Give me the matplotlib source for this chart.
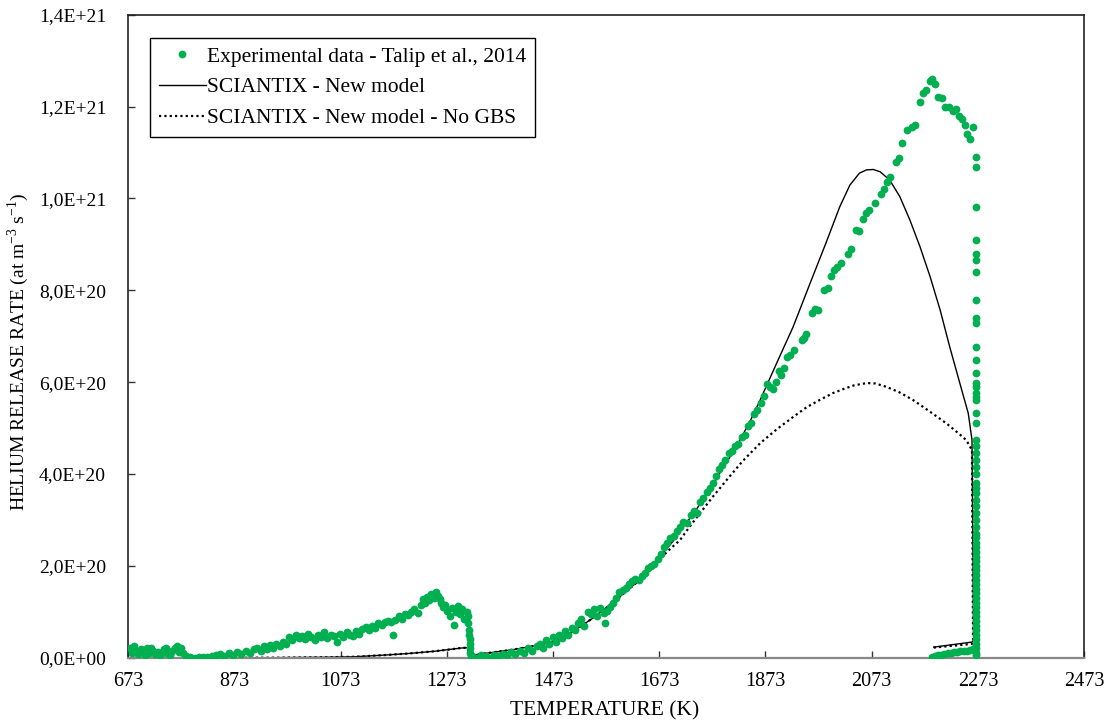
import matplotlib
matplotlib.use("Agg")
import matplotlib.pyplot as plt
from matplotlib.ticker import FixedLocator, FuncFormatter
import numpy as np

plt.rcParams['font.family'] = ['Liberation Serif', 'DejaVu Serif']
plt.rcParams['mathtext.fontset'] = 'custom'
plt.rcParams['mathtext.rm'] = 'Liberation Serif'

# ---------------- data (values in units of 1E+20 at m^-3 s^-1) ----------------
exp_T_low = [676, 680, 684, 688, 692, 696, 700, 704, 708, 712, 716, 720, 724, 728, 732, 736, 740,
             744, 748, 752, 756, 760, 764, 768, 772, 776,
             782, 790, 798, 806, 814, 822, 830,
             838, 846, 854, 862, 870, 878, 886, 894, 902, 910,
             916, 922, 928, 934, 940, 946, 952, 958, 964, 970,
             976, 982, 988, 994, 1000, 1006, 1012, 1018, 1024, 1030, 1036, 1042, 1048, 1054, 1060,
             1066, 1072, 1078, 1084, 1090, 1096,
             1102, 1108, 1114, 1120, 1126, 1132, 1138, 1144, 1150, 1156, 1171,
             1162, 1168, 1176, 1182, 1188, 1194, 1200, 1206, 1212, 1218,
             1224, 1228, 1232, 1236, 1240, 1244, 1248, 1252, 1256, 1260,
             1262, 1266, 1270, 1274, 1278, 1282, 1286, 1290, 1294, 1298, 1302, 1306, 1310,
             1312, 1313, 1314, 1315, 1316, 1316, 1317, 1317, 1318]
exp_V_low = [0.20, 0.10, 0.25, 0.15, 0.08, 0.18, 0.12, 0.05, 0.20, 0.10, 0.22, 0.15, 0.08, 0.12, 0.05, 0.10, 0.18,
             0.20, 0.08, 0.05, 0.15, 0.22, 0.25, 0.12, 0.20, 0.10,
             0.03, 0.01, 0.00, 0.02, 0.01, 0.02, 0.04,
             0.05, 0.08, 0.04, 0.10, 0.06, 0.12, 0.08, 0.15, 0.10, 0.18,
             0.20, 0.15, 0.25, 0.18, 0.28, 0.22, 0.30, 0.25, 0.35, 0.30,
             0.45, 0.38, 0.50, 0.42, 0.48, 0.40, 0.52, 0.45, 0.38, 0.50, 0.46, 0.55, 0.42, 0.50, 0.48,
             0.35, 0.52, 0.45, 0.55, 0.50, 0.48,
             0.58, 0.52, 0.62, 0.66, 0.60, 0.70, 0.65, 0.75, 0.72, 0.78, 0.50,
             0.80, 0.78, 0.82, 0.90, 0.85, 0.95, 0.92, 1.00, 1.05, 0.98,
             1.15, 1.28, 1.20, 1.32, 1.25, 1.38, 1.30, 1.44, 1.35, 1.28,
             1.20, 1.10, 1.15, 1.02, 0.90, 1.08, 0.72, 1.00, 1.12, 0.95, 1.05, 0.85, 1.00,
             0.90, 0.75, 0.60, 0.50, 0.40, 0.30, 0.20, 0.10, 0.02]

exp_T_ramp = [1322, 1330, 1338, 1346, 1354, 1362, 1370, 1378, 1386, 1394, 1402, 1410, 1418, 1426, 1434, 1442,
              1448, 1454, 1460, 1466, 1472, 1478, 1484, 1490, 1496, 1502, 1508, 1514, 1520,
              1526, 1532, 1538, 1544, 1550, 1556, 1562, 1568, 1571, 1574, 1580,
              1586, 1592, 1598, 1604, 1610, 1616, 1622, 1628, 1634, 1640, 1646, 1652, 1658, 1664,
              1670, 1676, 1682, 1688, 1694, 1700,
              1706, 1712, 1718, 1725, 1732, 1738, 1744, 1750, 1756, 1762, 1768, 1774, 1780, 1786,
              1792, 1797, 1804, 1810, 1816, 1822, 1828, 1834, 1840, 1846, 1852, 1858, 1864, 1870,
              1876, 1882, 1888, 1893, 1898, 1903, 1908, 1914, 1920, 1926,
              1941, 1945, 1950, 1960, 1966, 1972, 1983, 1990, 1996, 2002, 2008, 2015, 2028, 2035,
              2043, 2050, 2056, 2062, 2068, 2080, 2090, 2096, 2102, 2107, 2118, 2124, 2130, 2140,
              2149, 2155, 2165, 2170, 2176, 2182, 2187, 2192, 2198, 2205, 2212, 2218, 2226, 2232,
              2238, 2243, 2248, 2252, 2258, 2264]
exp_V_ramp = [0.02, 0.00, 0.05, 0.03, 0.00, 0.06, 0.04, 0.08, 0.05, 0.12, 0.08, 0.15, 0.10, 0.20, 0.15, 0.25,
              0.30, 0.22, 0.38, 0.30, 0.45, 0.35, 0.50, 0.42, 0.58, 0.50, 0.65, 0.60, 0.75,
              0.85, 0.70, 1.00, 0.95, 1.05, 0.90, 1.08, 0.98, 0.76, 1.02, 1.10,
              1.20, 1.30, 1.42, 1.48, 1.52, 1.60, 1.66, 1.72, 1.70, 1.78, 1.85, 1.95, 2.00, 2.05,
              2.15, 2.25, 2.40, 2.50, 2.60, 2.66,
              2.75, 2.85, 2.95, 2.93, 3.10, 3.20, 3.15, 3.40, 3.48, 3.60, 3.70, 3.80, 3.95, 4.10,
              4.20, 4.30, 4.45, 4.50, 4.60, 4.65, 4.80, 4.85, 5.05, 5.10, 5.30, 5.40, 5.55, 5.70,
              5.95, 5.90, 5.85, 6.00, 6.25, 6.15, 6.30, 6.55, 6.60, 6.70,
              6.92, 6.95, 7.05, 7.50, 7.60, 7.58, 8.00, 8.05, 8.30, 8.44, 8.50, 8.60, 8.79, 8.90,
              9.31, 9.30, 9.55, 9.68, 9.75, 9.90, 10.10, 10.20, 10.35, 10.46, 10.80, 10.88, 11.20, 11.50,
              11.55, 11.60, 12.10, 12.30, 12.35, 12.55, 12.60, 12.50, 12.20, 12.19, 12.00, 12.00, 11.90, 11.95,
              11.80, 11.73, 11.60, 11.40, 11.30, 11.55]

exp_T_hold = [2269] * 62
exp_V_hold = [10.90, 10.68, 9.81, 9.10, 8.80, 8.66, 8.40, 7.78, 7.39, 7.28, 6.76, 6.48, 6.20, 5.98,
              5.76, 5.90, 5.68, 5.60, 5.32, 5.10, 4.74, 4.60, 4.45, 4.30, 4.15, 4.00, 3.80, 3.70,
              3.58, 3.43, 3.30, 3.15, 3.00, 2.85, 2.70, 2.62, 2.50, 2.40, 2.30, 2.20, 2.10, 2.00,
              1.90, 1.80, 1.70, 1.60, 1.50, 1.40, 1.30, 1.20, 1.10, 1.00, 0.90, 0.80, 0.70, 0.60,
              0.50, 0.40, 0.30, 0.20, 0.10, 0.05]

exp_T_cool = [2186, 2192, 2198, 2204, 2210, 2216, 2222, 2228, 2234, 2240, 2246, 2252, 2258, 2264, 2268]
exp_V_cool = [0.02, 0.04, 0.05, 0.06, 0.08, 0.10, 0.10, 0.12, 0.12, 0.14, 0.15, 0.15, 0.17, 0.18, 0.20]

new_T = [873, 950, 1000, 1050, 1100, 1160, 1200, 1250, 1300, 1312, 1315, 1350, 1400, 1450, 1473,
         1500, 1525, 1550, 1575, 1600, 1636, 1680, 1700, 1718, 1735, 1750, 1770, 1787, 1805, 1825,
         1845, 1863, 1894, 1925, 1957, 1988, 2013, 2032, 2050, 2063, 2076, 2089, 2107, 2126, 2145,
         2164, 2183, 2202, 2220, 2239, 2255, 2262, 2265, 2262, 2190]
new_V = [0.0, 0.0, 0.005, 0.01, 0.02, 0.06, 0.09, 0.14, 0.21, 0.22, 0.05, 0.10, 0.18, 0.28, 0.35,
         0.50, 0.68, 0.88, 1.10, 1.34, 1.69, 2.28, 2.55, 2.85, 3.10, 3.35, 3.68, 4.02, 4.35, 4.74,
         5.17, 5.61, 6.41, 7.20, 8.15, 9.06, 9.82, 10.29, 10.55, 10.62, 10.63, 10.58, 10.40, 10.04, 9.53,
         8.95, 8.30, 7.57, 6.77, 5.98, 5.32, 4.74, 0.38, 0.34, 0.23]

nogbs_T = [873, 950, 1000, 1050, 1100, 1160, 1200, 1250, 1300, 1312, 1315, 1350, 1400, 1450, 1473,
           1500, 1525, 1550, 1575, 1600, 1636, 1674, 1690, 1712, 1730, 1750, 1775, 1800, 1830, 1863,
           1895, 1925, 1950, 1975, 2000, 2020, 2040, 2064, 2080, 2100, 2125, 2151, 2180, 2214, 2235,
           2251, 2262, 2264, 2262, 2190]
nogbs_V = [0.0, 0.0, 0.005, 0.01, 0.02, 0.06, 0.09, 0.14, 0.21, 0.22, 0.05, 0.10, 0.18, 0.28, 0.35,
           0.50, 0.68, 0.88, 1.10, 1.34, 1.69, 2.15, 2.33, 2.56, 2.85, 3.15, 3.52, 3.87, 4.28, 4.67,
           4.98, 5.24, 5.45, 5.61, 5.76, 5.85, 5.93, 5.98, 5.97, 5.90, 5.78, 5.61, 5.38, 5.10, 4.90,
           4.74, 4.52, 0.32, 0.30, 0.22]

x_ticks = [673, 873, 1073, 1273, 1473, 1673, 1873, 2073, 2273, 2473]
y_ticks = [0.0, 2.0e20, 4.0e20, 6.0e20, 8.0e20, 1.0e21, 1.2e21, 1.4e21]
SCALE = 1e20

# ---------------- figure ----------------
fig = plt.figure(figsize=(11.10, 7.24), dpi=100)
ax = fig.add_axes([0.1156, 0.0916, 0.8610, 0.8881])

green = '#00B050'
exp_T = exp_T_low + exp_T_ramp + exp_T_hold + exp_T_cool
exp_V = exp_V_low + exp_V_ramp + exp_V_hold + exp_V_cool
ax.plot(exp_T, np.array(exp_V) * SCALE, linestyle='none', marker='o', markersize=5.6,
        color=green, markeredgewidth=0, label='Experimental data - Talip et al., 2014', zorder=3)
ax.plot(new_T, np.array(new_V) * SCALE, color='black', linewidth=1.0,
        label='SCIANTIX - New model', zorder=2)
ax.plot(nogbs_T, np.array(nogbs_V) * SCALE, color='black', linewidth=1.6,
        linestyle=(0, (1, 1.4)), label='SCIANTIX - New model - No GBS', zorder=2)

ax.set_xlim(673, 2473)
ax.set_ylim(0, 1.4e21)
ax.xaxis.set_major_locator(FixedLocator(x_ticks))
ax.yaxis.set_major_locator(FixedLocator(y_ticks))
ax.xaxis.set_major_formatter(FuncFormatter(lambda v, p: f"{int(round(v))}"))
ax.yaxis.set_major_formatter(FuncFormatter(lambda v, p: f"{v:.1E}".replace('.', ',')))
ax.tick_params(axis='x', direction='in', length=5, width=1, pad=10, labelsize=14.5, color='#333333')
ax.tick_params(axis='y', direction='in', length=5, width=1, pad=16, labelsize=14, color='#333333')

for side in ['left', 'top', 'right']:
    ax.spines[side].set_color('#222222')
    ax.spines[side].set_linewidth(1.2)
ax.spines['bottom'].set_color('#888888')
ax.spines['bottom'].set_linewidth(1.6)

ax.set_xlabel('TEMPERATURE (K)', fontsize=15.5)
ax.xaxis.set_label_coords(0.4988, -0.068)
ax.set_ylabel(r'HELIUM RELEASE RATE (at m$^{\mathregular{-3}}$ s$^{\mathregular{-1}}$)', fontsize=14)
ax.yaxis.set_label_coords(-0.102, 0.475)

leg = ax.legend(loc='upper left', bbox_to_anchor=(0.0227, 0.9638), fontsize=15.5, frameon=True,
                fancybox=False, edgecolor='black', framealpha=1, numpoints=1,
                handlelength=2.2, handletextpad=0.05, labelspacing=0.5, borderpad=0.4,
                borderaxespad=0.0)
leg.get_frame().set_linewidth(1.0)

fig.savefig('out.png', dpi=100)
